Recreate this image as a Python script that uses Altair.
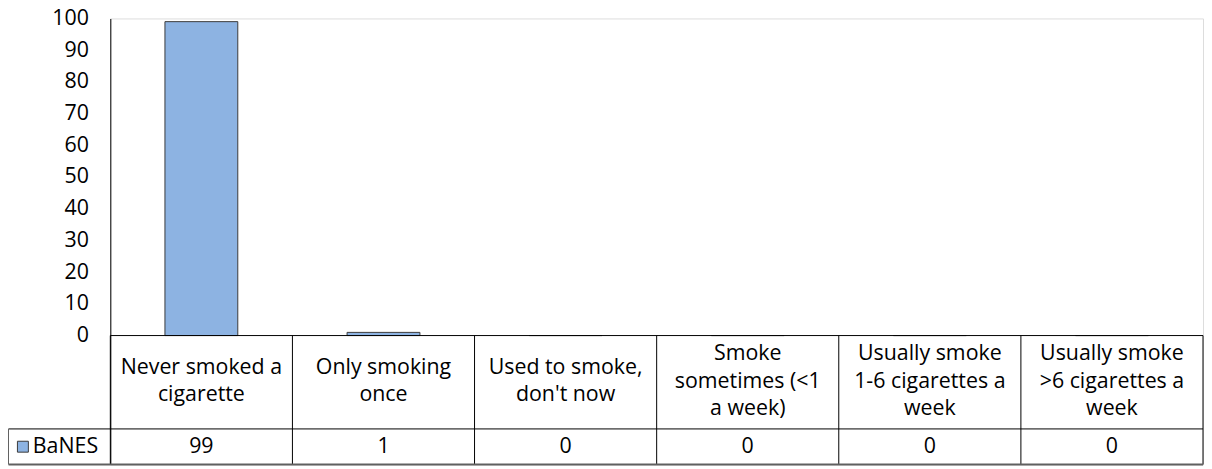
import altair as alt
import pandas as pd

# ---- data ----
categories = [
    "Never smoked a\ncigarette",
    "Only smoking\nonce",
    "Used to smoke,\ndon't now",
    "Smoke\nsometimes (<1\na week)",
    "Usually smoke\n1-6 cigarettes a\nweek",
    "Usually smoke\n>6 cigarettes a\nweek",
]
values = [99, 1, 0, 0, 0, 0]
series_name = "BaNES"
y_ticks = list(range(0, 101, 10))

df = pd.DataFrame({"label": categories, "value": values})
df["lines"] = [c.count("\n") + 1 for c in categories]
one = pd.DataFrame({"k": [0]})

# ---- layout constants ----
W = 1100
H = 449
PX_PER_UNIT = 3.192
Y_MIN = -(H - 100 * PX_PER_UNIT) / PX_PER_UNIT
BASE = 100 * PX_PER_UNIT          # pixel y of zero line
ROW_LINE = BASE + 94              # line between header and value rows
BOTTOM = H                        # bottom border of table
HEAD_MID = 365.5
VAL_MID = (ROW_LINE + BOTTOM) / 2
LEFT_CELL = -102.5
LH = 28

FONT = "Open Sans"
FS = 21.5
BAR_FILL = "#8DB3E2"
LINE = "#000000"

xscale = alt.Scale(domain=categories, paddingInner=0, paddingOuter=0)
xenc = alt.X("label:N", sort=categories, scale=xscale, axis=None)

base = alt.Chart(df)

bars = base.mark_bar(width=alt.RelativeBandSize(0.4), fill=BAR_FILL,
                     stroke="#3a3a3a", strokeWidth=1).encode(
    x=xenc,
    y=alt.Y("value:Q", scale=alt.Scale(domain=[Y_MIN, 100], nice=False, zero=False),
            axis=alt.Axis(values=y_ticks, title=None, grid=False, ticks=False,
                          labelPadding=22, labelFont=FONT, labelFontSize=FS,
                          labelColor="black", domainColor=LINE, domainWidth=1)),
)

def header(n):
    return base.transform_filter(alt.datum.lines == n).mark_text(
        font=FONT, fontSize=FS, lineBreak="\n", lineHeight=LH,
        baseline="middle", align="center", color="black").encode(
        x=xenc, y=alt.value(HEAD_MID - LH * (n - 1) / 2), text="label:N")

head2 = header(2)
head3 = header(3)

val_text = base.mark_text(font=FONT, fontSize=FS, baseline="middle",
                          align="center", color="black").encode(
    x=xenc, y=alt.value(VAL_MID), text="value:Q")

col_lines = base.mark_rule(color=LINE, strokeWidth=1).encode(
    x=alt.X("label:N", sort=categories, scale=xscale, axis=None, bandPosition=0),
    y=alt.value(BASE), y2=alt.value(BOTTOM))

o = alt.Chart(one)
right_line = o.mark_rule(color=LINE).encode(x=alt.value(W), y=alt.value(BASE), y2=alt.value(BOTTOM))
top_line = o.mark_rule(color=LINE).encode(x=alt.value(0), x2=alt.value(W), y=alt.value(BASE))
row_line = o.mark_rule(color=LINE).encode(x=alt.value(LEFT_CELL), x2=alt.value(W), y=alt.value(ROW_LINE))
bot_line = o.mark_rule(color="#606060", strokeWidth=2).encode(x=alt.value(LEFT_CELL), x2=alt.value(W), y=alt.value(BOTTOM))
left_cell = o.mark_rule(color="#606060", strokeWidth=1).encode(x=alt.value(LEFT_CELL), y=alt.value(ROW_LINE), y2=alt.value(BOTTOM))

leg_sq = o.mark_square(size=121, fill=BAR_FILL, stroke="#3a3a3a", strokeWidth=1, opacity=1).encode(
    x=alt.value(-88), y=alt.value(VAL_MID))
leg_txt = o.mark_text(font=FONT, fontSize=FS, align="left", baseline="middle", color="black").encode(
    x=alt.value(-78), y=alt.value(VAL_MID), text=alt.value(series_name))

chart = alt.layer(
    bars, col_lines, right_line, top_line, row_line, bot_line, left_cell,
    head2, head3, val_text, leg_sq, leg_txt
).properties(
    width=W, height=H,
    autosize=alt.AutoSizeParams(type="none"),
    padding={"left": 103, "top": 9, "right": 1, "bottom": 3},
).configure_view(stroke=None).configure(background="white")

chart.save("out.html", embed_options={"renderer": "svg", "actions": False})
